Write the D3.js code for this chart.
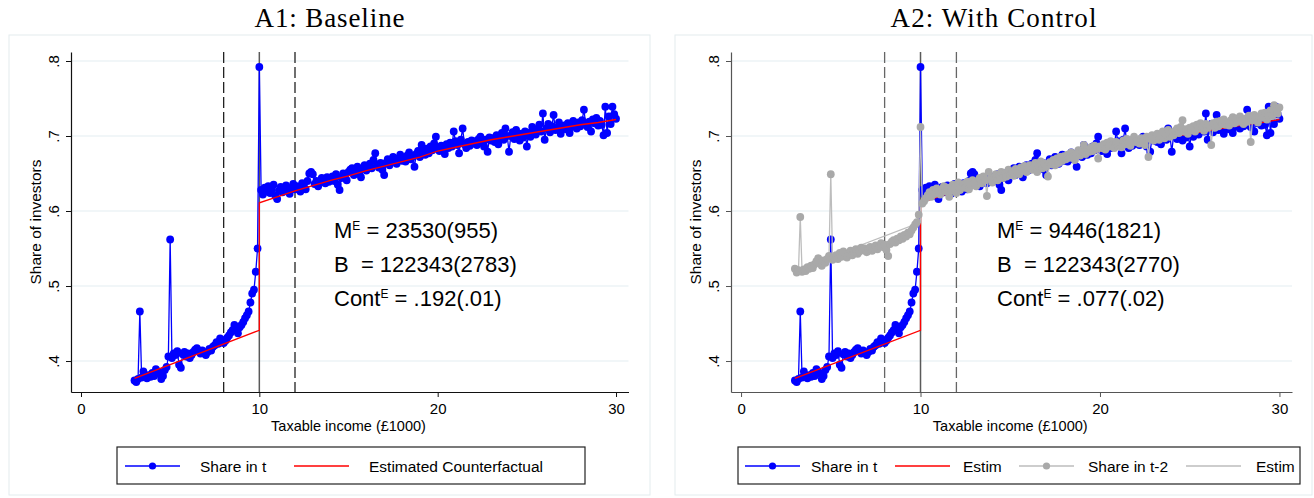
<!DOCTYPE html>
<html>
<head>
<meta charset="utf-8">
<script src="https://cdn.jsdelivr.net/npm/d3@7"></script>
<style>
body{margin:0;background:#fff;}
text{font-family:"Liberation Sans",Arial,Helvetica,sans-serif;fill:#000;}
</style>
</head>
<body>
<svg id="chart" width="1314" height="498"></svg>
<script>

// bins of taxable income (£1000), first bin and width
const binStart = 3.0;
const binStep = 0.1;

const xTicks = [0,10,20,30];
const yTicks = [0.4,0.5,0.6,0.7,0.8];
const yTickLabels = [".4",".5",".6",".7",".8"];
const cutoffs = [8,12];
const threshold = 10;

// share of investors in t (3.0 ... 30.0)
const shareT = [
.374,.372,.376,.466,.378,.386,.380,.377,.381,.379,
.384,.380,.389,.386,.383,.376,.380,.388,.392,.406,
.562,.404,.410,.408,.413,.395,.391,.409,.412,.406,
.410,.404,.408,.412,.415,.417,.413,.410,.414,.411,
.408,.412,.416,.414,.419,.421,.425,.423,.430,.428,
.424,.427,.431,.434,.438,.441,.448,.444,.437,.445,
.448,.452,.457,.461,.466,.478,.490,.495,.519,.550,
.792,
.628,.622,.631,.626,.633,.624,.629,.635,.620,.616,
.627,.632,.625,.630,.634,.628,.623,.631,.636,.629,
.633,.630,.626,.637,.632,.629,.640,.650,.652,.649,
.636,.640,.633,.638,.644,.641,.637,.645,.639,.643,
.646,.640,.649,.635,.628,.644,.650,.646,.641,.652,
.655,.657,.648,.652,.659,.650,.645,.656,.661,.654,
.660,.663,.657,.668,.677,.662,.658,.664,.655,.648,
.664,.669,.661,.666,.672,.668,.663,.670,.675,.667,
.671,.666,.674,.678,.669,.673,.659,.676,.680,.672,
.688,.679,.675,.683,.677,.686,.681,.690,.699,.684,
.680,.687,.683,.676,.689,.684,.691,.686,.706,.693,
.688,.677,.695,.710,.689,.684,.692,.687,.694,.690,
.693,.688,.696,.699,.691,.686,.695,.679,.698,.694,
.697,.692,.701,.689,.698,.704,.695,.710,.700,.679,
.700,.705,.696,.708,.701,.694,.703,.698,.706,.686,
.704,.699,.712,.707,.702,.709,.715,.706,.730,.695,
.710,.716,.705,.713,.728,.708,.711,.718,.703,.712,
.714,.709,.717,.704,.712,.720,.715,.710,.718,.713,
.721,.735,.716,.712,.719,.706,.722,.717,.724,.714,
.720,.715,.701,.739,.704,.726,.716,.739,.729,.723
];

// share of investors in t-2 (3.0 ... 30.0)
const shareT2 = [
.523,.518,.521,.592,.519,.522,.520,.525,.523,.527,
.524,.529,.533,.537,.530,.527,.534,.531,.536,.540,
.649,.535,.538,.541,.536,.544,.539,.546,.541,.538,
.543,.547,.541,.545,.549,.543,.546,.551,.548,.550,
.545,.549,.552,.547,.551,.554,.549,.553,.557,.552,
.555,.548,.540,.556,.559,.561,.558,.563,.561,.566,
.563,.568,.566,.571,.569,.574,.578,.582,.585,.595,
.712,
.610,.613,.617,.621,.625,.619,.628,.623,.630,.626,
.622,.629,.633,.626,.631,.619,.627,.635,.630,.624,
.638,.628,.633,.636,.631,.639,.629,.634,.641,.637,
.633,.640,.644,.637,.646,.641,.620,.652,.643,.638,
.645,.649,.641,.647,.652,.644,.650,.646,.655,.648,
.651,.647,.656,.653,.649,.658,.654,.660,.652,.657,
.661,.655,.658,.664,.652,.660,.666,.657,.663,.659,
.646,.665,.662,.668,.661,.670,.664,.672,.667,.673,
.669,.675,.671,.678,.673,.668,.676,.681,.674,.679,
.688,.676,.682,.679,.685,.680,.687,.683,.670,.686,
.684,.689,.682,.691,.686,.693,.688,.684,.692,.687,
.690,.685,.694,.689,.696,.691,.687,.695,.699,.692,
.694,.690,.697,.693,.688,.699,.672,.696,.701,.694,
.698,.703,.695,.700,.706,.697,.702,.708,.699,.704,
.701,.707,.710,.704,.712,.721,.706,.709,.703,.711,
.708,.713,.706,.715,.710,.717,.712,.707,.716,.711,
.714,.688,.717,.711,.719,.713,.720,.716,.722,.715,
.718,.714,.721,.725,.717,.723,.719,.726,.720,.716,
.723,.719,.727,.692,.721,.728,.724,.718,.726,.730,
.725,.731,.722,.728,.734,.727,.741,.733,.730,.738
];

// estimated counterfactual (t)
const cfX = [3,10,10,11,12,13,14,15,16,17,18,19,20,21,22,23,24,25,26,27,28,29,30];
const cfY = [.377,.441,.611,.619,.627,.634,.641,.647,.654,.660,.666,.672,.680,.685,.690,.695,.699,.703,.707,.711,.715,.718,.722];
// estimated counterfactual (t-2)
const cf2Y = [.521,.585,.612,.620,.628,.635,.642,.649,.656,.662,.668,.674,.681,.686,.691,.696,.700,.705,.709,.713,.717,.720,.724];

const stats1 = [["M","E"," = 23530(955)"],["B","","  = 122343(2783)"],["Cont","E"," = .192(.01)"]];
const stats2 = [["M","E"," = 9446(1821)"],["B","","  = 122343(2770)"],["Cont","E"," = .077(.02)"]];

const blue = "#0000ff", red = "#ff0000", grayPt = "#a9a9a9", grayLn = "#bdbdbd";

const binX = d3.range(shareT.length).map(i => binStart + i*binStep);
const seriesT = shareT.map((v,i)=>({x:binX[i],y:v}));
const seriesT2 = shareT2.map((v,i)=>({x:binX[i],y:v}));
const cf = cfY.map((v,i)=>({x:cfX[i],y:v}));
const cf2 = cf2Y.map((v,i)=>({x:cfX[i],y:v}));

const svg = d3.select("#chart");

const xDomain = [-0.56,30.7];
const yDomain = [0.3587,0.812];
const dotR = 3.9;

function drawPanel(p){
  const g = svg.append("g");

  // panel frame
  g.append("rect").attr("x",p.bx).attr("y",35).attr("width",p.bw).attr("height",460)
    .attr("fill","#fff").attr("stroke","#e3ecee").attr("stroke-width",1);

  // title
  g.append("text").attr("x",p.bx+p.bw/2).attr("y",27).attr("text-anchor","middle")
    .style("font-family","'Liberation Serif','Times New Roman',serif").style("font-size","27px")
    .attr("textLength",p.titleLen).attr("lengthAdjust","spacing")
    .text(p.title);

  const x = d3.scaleLinear().domain(xDomain).range([p.x0,p.x1]);
  const y = d3.scaleLinear().domain(yDomain).range([392,52]);

  // GRID
  g.selectAll(".grid").data(yTicks).enter().append("line")
    .attr("x1",x(xDomain[0])).attr("x2",x(xDomain[1]))
    .attr("y1",d=>y(d)).attr("y2",d=>y(d))
    .attr("stroke","#e4eef1").attr("stroke-width",1.2);

  // vertical guides
  g.selectAll(".cut").data(cutoffs).enter().append("line")
    .attr("x1",d=>x(d)).attr("x2",d=>x(d))
    .attr("y1",y(yDomain[1])).attr("y2",y(yDomain[0]))
    .attr("stroke",p.dashCol).attr("stroke-width",1.3).attr("stroke-dasharray","11,4");
  g.append("line").attr("x1",x(threshold)).attr("x2",x(threshold))
    .attr("y1",y(yDomain[1])).attr("y2",y(yDomain[0]))
    .attr("stroke","#5a5a5a").attr("stroke-width",1.5);

  const line = d3.line().x(d=>x(d.x)).y(d=>y(d.y));

  // share in t
  g.append("path").datum(seriesT).attr("fill","none").attr("stroke",blue).attr("stroke-width",1.3).attr("d",line);
  g.append("g").selectAll("circle").data(seriesT).enter().append("circle")
    .attr("cx",d=>x(d.x)).attr("cy",d=>y(d.y)).attr("r",dotR).attr("fill",blue);

  // counterfactual
  g.append("path").datum(cf).attr("fill","none").attr("stroke",red).attr("stroke-width",1.3).attr("d",line);

  if(p.control){
    g.append("path").datum(cf2).attr("fill","none").attr("stroke",grayLn).attr("stroke-width",1.2).attr("d",line);
    g.append("path").datum(seriesT2).attr("fill","none").attr("stroke",grayLn).attr("stroke-width",1.3).attr("d",line);
    g.append("g").selectAll("circle").data(seriesT2).enter().append("circle")
      .attr("cx",d=>x(d.x)).attr("cy",d=>y(d.y)).attr("r",dotR).attr("fill",grayPt);
  }

  // X AXIS
  const xa = g.append("g").attr("transform","translate(0,392)")
    .call(d3.axisBottom(x).tickValues(xTicks).tickSize(5).tickSizeOuter(0).tickPadding(6));
  xa.select(".domain").attr("stroke",p.axisCol).attr("stroke-width",1.2);
  xa.selectAll(".tick line").attr("stroke",p.axisCol);
  xa.selectAll("text").style("font-size","15px").style("font-family","'Liberation Sans',Arial,sans-serif");

  // Y AXIS
  const ya = g.append("g").attr("transform",`translate(${p.x0},0)`)
    .call(d3.axisLeft(y).tickValues(yTicks).tickSize(5).tickSizeOuter(0).tickFormat((d,i)=>yTickLabels[i]));
  ya.select(".domain").attr("stroke",p.axisCol).attr("stroke-width",1.2);
  ya.selectAll(".tick line").attr("stroke",p.axisCol);
  ya.selectAll("text").attr("transform","rotate(-90)").attr("x",0).attr("y",-12).attr("dy",0)
    .style("text-anchor","middle").style("font-size","15px").style("font-family","'Liberation Sans',Arial,sans-serif");

  // axis titles
  g.append("text").attr("transform",`translate(${p.x0-30},222) rotate(-90)`).attr("text-anchor","middle")
    .style("font-size","15.5px").text("Share of investors");
  g.append("text").attr("x",(x(0)+x(30))/2).attr("y",431).attr("text-anchor","middle")
    .style("font-size","14.5px").text("Taxable income (£1000)");

  // estimates
  p.stats.forEach((s,i)=>{
    const t = g.append("text").attr("x",p.statX).attr("y",238+i*34).style("font-size","22px").style("white-space","pre");
    t.append("tspan").text(s[0]);
    if(s[1]){
      t.append("tspan").attr("dy",-8).style("font-size","12px").text(s[1]);
      t.append("tspan").attr("dy",8).text(s[2]);
    } else {
      t.append("tspan").text(s[2]);
    }
  });

  // LEGEND
  const lg = g.append("g");
  lg.append("rect").attr("x",p.legX0).attr("y",447).attr("width",p.legX1-p.legX0).attr("height",37)
    .attr("fill","#fff").attr("stroke","#222").attr("stroke-width",1.2);
  p.legend.forEach(it=>{
    lg.append("line").attr("x1",it.x).attr("x2",it.x+55).attr("y1",466).attr("y2",466)
      .attr("stroke",it.col).attr("stroke-width",1.4);
    if(it.dot) lg.append("circle").attr("cx",it.x+27.5).attr("cy",466).attr("r",3.6).attr("fill",it.dot);
    lg.append("text").attr("x",it.tx).attr("y",471.5).style("font-size","15.5px").text(it.label);
  });
}

drawPanel({
  title:"A1: Baseline", titleLen:150, bx:9, bw:641, x0:71, x1:628.5,
  axisCol:"#111", dashCol:"#222", control:false, stats:stats1, statX:334,
  legX0:117, legX1:585,
  legend:[
    {x:125,tx:200,col:blue,dot:blue,label:"Share in t"},
    {x:294,tx:369,col:red,label:"Estimated Counterfactual"}
  ]
});

drawPanel({
  title:"A2: With Control", titleLen:206, bx:675, bw:637, x0:731, x1:1292,
  axisCol:"#555", dashCol:"#666", control:true, stats:stats2, statX:997,
  legX0:738, legX1:1300,
  legend:[
    {x:745,tx:811,col:blue,dot:blue,label:"Share in t"},
    {x:895,tx:963,col:red,label:"Estim"},
    {x:1019,tx:1088,col:grayLn,dot:grayPt,label:"Share in t-2"},
    {x:1186,tx:1256,col:grayLn,label:"Estim"}
  ]
});

</script>
</body>
</html>
